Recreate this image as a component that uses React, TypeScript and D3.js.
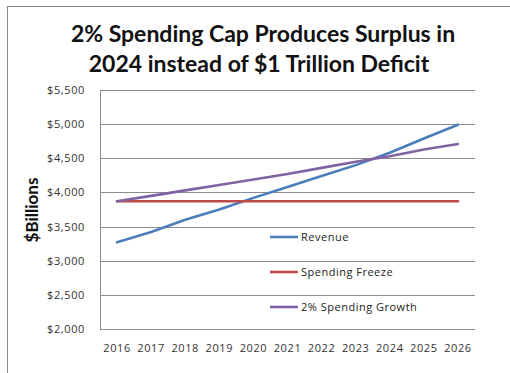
import React from "react";
import * as d3 from "d3";

const years = ["2016","2017","2018","2019","2020","2021","2022","2023","2024","2025","2026"];
const revenue = [3270, 3420, 3600, 3750, 3920, 4080, 4240, 4400, 4580, 4790, 4990];
const spendingFreeze = [3870, 3870, 3870, 3870, 3870, 3870, 3870, 3870, 3870, 3870, 3870];
const spendingGrowth = [3870, 3950, 4030, 4110, 4190, 4270, 4360, 4450, 4530, 4630, 4710];
const yTicks = [2000, 2500, 3000, 3500, 4000, 4500, 5000, 5500];
const seriesNames = ["Revenue", "Spending Freeze", "2% Spending Growth"];
const seriesColors = ["#4a7ebb", "#be4b48", "#7f63a2"];

export default function App() {
  const W = 510, H = 373;
  const left = 100, right = 475, top = 90, bottom = 329;
  const x = d3.scaleBand<string>().domain(years).range([left, right]);
  const y = d3.scaleLinear().domain([2000, 5500]).range([bottom, top]);
  const line = d3.line<number>()
    .x((_, i) => (x(years[i]) as number) + x.bandwidth() / 2)
    .y((d) => y(d));
  const series = [revenue, spendingFreeze, spendingGrowth];
  const fmt = (v: number) => "$" + d3.format(",")(v);
  const font = "'Open Sans', Lato, sans-serif";
  const tfont = "Lato, 'Open Sans', sans-serif";
  const legendRows = [237, 272, 307];

  return (
    <svg width={W} height={H} style={{ position: "absolute", left: 0, top: 0, background: "#fff" }}>
      <rect x={0} y={0} width={W} height={H} fill="#fff" />
      <line x1={7.5} y1={6} x2={7.5} y2={H} stroke="#8a8a8a" strokeWidth={1} />
      <line x1={7} y1={6.5} x2={W} y2={6.5} stroke="#8a8a8a" strokeWidth={1} />
      <text x={263} y={42} textAnchor="middle" fontFamily={tfont} fontWeight="bold" fontSize={23} fill="#111">
        2% Spending Cap Produces Surplus in
      </text>
      <text x={259} y={72} textAnchor="middle" fontFamily={tfont} fontWeight="bold" fontSize={23} fill="#111">
        2024 instead of $1 Trillion Deficit
      </text>
      {yTicks.map((t) => (
        <g key={t}>
          <line x1={left} x2={right} y1={Math.round(y(t)) + 0.5} y2={Math.round(y(t)) + 0.5} stroke="#8c8c8c" strokeWidth={1} />
          <text x={85} y={y(t) + 4} textAnchor="end" fontFamily={font} fontSize={11} letterSpacing={0.6} fill="#333">
            {fmt(t)}
          </text>
        </g>
      ))}
      <line x1={left + 0.5} x2={left + 0.5} y1={top} y2={bottom} stroke="#8c8c8c" strokeWidth={1} />
      {years.map((yr) => (
        <text key={yr} x={(x(yr) as number) + x.bandwidth() / 2} y={352} textAnchor="middle" fontFamily={font} fontSize={11} letterSpacing={0.6} fill="#333">
          {yr}
        </text>
      ))}
      <text transform="translate(38,210) rotate(-90)" textAnchor="middle" fontFamily={tfont} fontWeight="bold" fontSize={17} fill="#111">
        $Billions
      </text>
      {series.map((s, i) => (
        <path key={i} d={line(s) || ""} fill="none" stroke={seriesColors[i]} strokeWidth={2.6} strokeLinecap="round" />
      ))}
      {seriesNames.map((n, i) => (
        <g key={n}>
          <line x1={270} x2={298} y1={legendRows[i]} y2={legendRows[i]} stroke={seriesColors[i]} strokeWidth={2.6} />
          <text x={301} y={legendRows[i] + 4} fontFamily={font} fontSize={11} letterSpacing={0.5} fill="#222">
            {n}
          </text>
        </g>
      ))}
    </svg>
  );
}
